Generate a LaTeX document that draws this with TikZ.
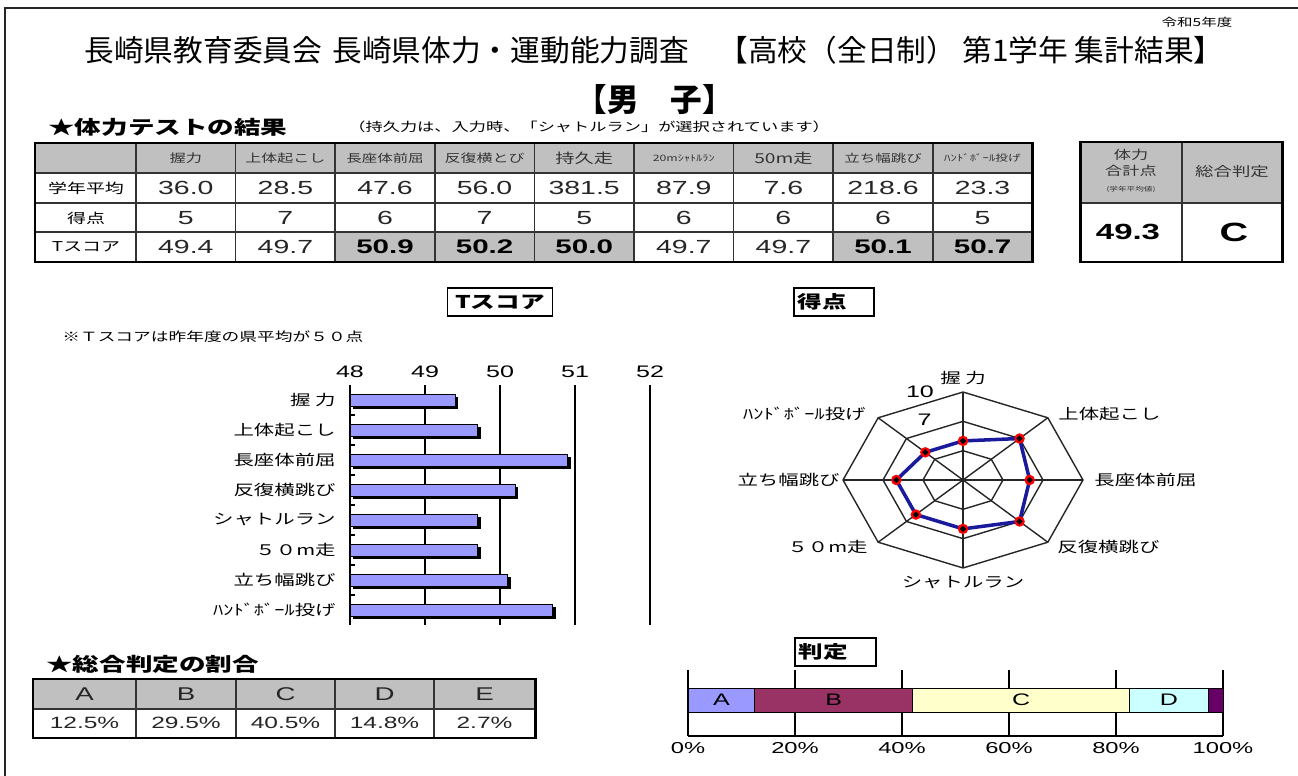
\documentclass[tikz,border=0pt]{standalone}
\usepackage{fontspec}
\setmainfont{Noto Sans CJK JP}
\newfontfamily\widefont{Noto Sans CJK JP}[FakeStretch=1.4]
\newfontfamily\numfont{Liberation Sans}[FakeStretch=1.5]

\definecolor{cellgray}{HTML}{C0C0C0}
\definecolor{barblue}{HTML}{9999FF}
\definecolor{bplum}{HTML}{993366}
\definecolor{cyellow}{HTML}{FFFFCC}
\definecolor{dcyan}{HTML}{CCFFFF}
\definecolor{epurple}{HTML}{660066}
\definecolor{radarblue}{HTML}{1A1A9C}

\tikzset{
  pageframe/.style={line width=1.2pt, black!85},
  tline/.style={line width=0.9pt, black!80},
  tframe/.style={line width=1.7pt, black},
  titletxt/.style={font=\fontsize{16.9}{18}\selectfont, inner sep=0pt},
  smalltxt/.style={font=\widefont\fontsize{7}{8}\selectfont, inner sep=0pt},
  headtxt/.style={font=\widefont\bfseries\fontsize{10.8}{12}\selectfont, inner sep=0pt},
  hdr/.style={text=black!80, inner sep=0pt},
  rowlab/.style={font=\widefont\fontsize{7.7}{9}\selectfont, inner sep=0pt},
  val/.style={font=\numfont\fontsize{10.8}{12}\selectfont, text=black!85, inner sep=0pt},
  valbold/.style={font=\numfont\bfseries\fontsize{11.2}{12}\selectfont, inner sep=0pt},
  catlab/.style={font=\widefont\fontsize{8.3}{10}\selectfont, inner sep=0pt},
  axlab/.style={font=\numfont\fontsize{9.5}{11}\selectfont, inner sep=0pt},
  boxlab/.style={draw, line width=0.9pt, font=\widefont\bfseries\fontsize{10}{12}\selectfont, minimum height=0.56cm},
  plotgrid/.style={line width=0.7pt, black},
  tbar/.style={fill=barblue, draw=black, line width=0.4pt},
  barshadow/.style={fill=black},
  radgrid/.style={line width=0.8pt, black!85},
  radline/.style={line width=2pt, radarblue, line join=round},
  segbox/.style={draw=black, line width=0.5pt},
}

\begin{document}
\begin{tikzpicture}[x=0.02cm,y=-0.02cm]
\useasboundingbox (0,0) rectangle (1298,776);
\draw[pageframe] (1298,8) -- (5,8) -- (5,776);

\node[smalltxt, font=\widefont\fontsize{6.3}{7}\selectfont] (year) at (1197,22) {令和5年度};
\node[titletxt] (title) at (654,50) {長崎県教育委員会\hspace{0.35em}長崎県体力・運動能力調査　【高校（全日制） 第1学年 集計結果】};
\node[font=\bfseries\fontsize{18}{20}\selectfont, inner sep=0pt] (sex) at (655,100) {【男　子】};
\node[headtxt, anchor=west] (testhead) at (48,127) {★体力テストの結果};
\node[smalltxt, anchor=west] (note1) at (348,127) {（持久力は、入力時、「シャトルラン」が選択されています）};

% main table
\fill[cellgray] (35,143) rectangle (1032,173);
\foreach \i in {3,4,5,8,9} \fill[cellgray] ({136+99.6*(\i-1)},232) rectangle ({136+99.6*\i},262);
\foreach \yy in {173,203,232} \draw[tline] (35,\yy) -- (1032,\yy);
\foreach \i in {0,...,8} \draw[tline] ({136+99.6*\i},143) -- ({136+99.6*\i},262);
\draw[tframe] (35,143) rectangle (1032,262);
\foreach \lab/\fs [count=\i] in {握力/6.6,上体起こし/6.5,長座体前屈/6.3,反復横とび/6.5,持久走/7.8,20mｼｬﾄﾙﾗﾝ/5,50m走/7.8,立ち幅跳び/6.3,ﾊﾝﾄﾞﾎﾞｰﾙ投げ/5.2}
  \node[hdr, font=\widefont\fontsize{\fs}{\fs}\selectfont] (h\i) at ({185.8+99.6*(\i-1)},158) {\lab};
\node[rowlab] (avg) at (86,188) {学年平均};
\node[rowlab] (pts) at (86,218) {得点};
\node[rowlab] (tsc) at (86,247) {Tスコア};
\foreach \v [count=\i] in {36.0,28.5,47.6,56.0,381.5,87.9,7.6,218.6,23.3}
  \node[val] (a\i) at ({185.8+99.6*(\i-1)},188) {\v};
\foreach \v [count=\i] in {5,7,6,7,5,6,6,6,5}
  \node[val] (p\i) at ({185.8+99.6*(\i-1)},218) {\v};
\foreach \i/\v in {1/49.4,2/49.7,6/49.7,7/49.7}
  \node[val] (t\i) at ({185.8+99.6*(\i-1)},247) {\v};
\foreach \i/\v in {3/50.9,4/50.2,5/50.0,8/50.1,9/50.7}
  \node[valbold] (t\i) at ({185.8+99.6*(\i-1)},247) {\v};

% total box
\fill[cellgray] (1080,142) rectangle (1282,203);
\draw[tline] (1182,142) -- (1182,262);
\draw[tline, line width=1.3pt] (1080,203) -- (1282,203);
\draw[tframe] (1080,142) rectangle (1282,262);
\node[hdr, align=center, font=\widefont\fontsize{7}{9}\selectfont] (sumhead) at (1131,171) {体力\\合計点\\{\fontsize{3.5}{4}\selectfont (学年平均値)}};
\node[hdr, font=\widefont\fontsize{7.5}{9}\selectfont] (judhead) at (1232,172) {総合判定};
\node[valbold, font=\numfont\bfseries\fontsize{12.5}{14}\selectfont] (sumval) at (1128,232) {49.3};
\node[valbold, font=\numfont\bfseries\fontsize{15}{16}\selectfont] (judval) at (1234,232) {C};

% T score bars
\node[boxlab, minimum width=2.1cm] (tbox) at (500,302) {Tスコア};
\node[smalltxt, anchor=west, font=\widefont\fontsize{7.2}{8}\selectfont] (note2) at (62,337) {※Ｔスコアは昨年度の県平均が５０点};
\foreach \v in {48,...,52} {
  \node[axlab] (ax\v) at ({350+75*(\v-48)},372) {\v};
  \draw[plotgrid] ({350+75*(\v-48)},385) -- ({350+75*(\v-48)},625);
}
\foreach \k in {1,...,7} \draw[plotgrid] (350,{385+30*\k}) -- (355,{385+30*\k});
\foreach \lab/\v [count=\i] in {握 力/49.4,上体起こし/49.7,長座体前屈/50.9,反復横跳び/50.2,シャトルラン/49.7,５０m走/49.7,立ち幅跳び/50.1,ﾊﾝﾄﾞﾎﾞｰﾙ投げ/50.7} {
  \fill[barshadow] (353,{370+30*\i-3}) rectangle ({350+75*(\v-48)+3},{370+30*\i+9});
  \filldraw[tbar] (350,{370+30*\i-6}) rectangle ({350+75*(\v-48)},{370+30*\i+6});
  \node[catlab, anchor=east] (c\i) at (336,{370+30*\i}) {\lab};
}

% radar
\node[boxlab, anchor=west, text width=1.45cm, inner xsep=0.075cm] (pbox) at (793,302) {得点};
\begin{scope}[shift={(963,480)}, x=2.4cm, y=1.76cm]
\foreach \f in {0.3333,0.6667,1}
  \draw[radgrid] (90:\f) -- (45:\f) -- (0:\f) -- (-45:\f) -- (-90:\f) -- (-135:\f) -- (180:\f) -- (135:\f) -- cycle;
\foreach \a in {0,45,...,315} \draw[radgrid] (0,0) -- (\a:1);
\node[axlab, anchor=east] (r10) at (-0.24,1) {10};
\node[axlab, anchor=east] (r7) at (-0.26,0.69) {7};
\draw[radline] (90:0.4444) -- (45:0.6667) -- (0:0.5556) -- (-45:0.6667) -- (-90:0.5556) -- (-135:0.5556) -- (180:0.5556) -- (135:0.4444) -- cycle;
\foreach \a/\f in {90/0.4444,45/0.6667,0/0.5556,-45/0.6667,-90/0.5556,-135/0.5556,180/0.5556,135/0.4444} {
  \fill[red] (\a:\f) circle[radius=3pt];
  \fill[black] (\a:\f) ++(1.8pt,0) -- ++(-1.8pt,1.8pt) -- ++(-1.8pt,-1.8pt) -- ++(1.8pt,-1.8pt) -- cycle;
}
\end{scope}
\node[catlab] (rl1) at (963,378) {握 力};
\node[catlab, anchor=west] (rl2) at (1058,414) {上体起こし};
\node[catlab, anchor=west] (rl3) at (1094,480) {長座体前屈};
\node[catlab, anchor=west] (rl4) at (1057,547) {反復横跳び};
\node[catlab] (rl5) at (963,583) {シャトルラン};
\node[catlab, anchor=east] (rl6) at (868,547) {５０m走};
\node[catlab, anchor=east] (rl7) at (840,480) {立ち幅跳び};
\node[catlab, anchor=east] (rl8) at (866,414) {ﾊﾝﾄﾞﾎﾞｰﾙ投げ};

% judgement share table
\node[headtxt, anchor=west] (sharehead) at (46,664) {★総合判定の割合};
\fill[cellgray] (33,679) rectangle (535,709);
\draw[tline] (33,709) -- (535,709);
\foreach \xx in {136,236,335,434} \draw[tline] (\xx,679) -- (\xx,738);
\draw[tframe] (33,679) rectangle (535,738);
\foreach \l/\v/\xx in {A/12.5/84.5,B/29.5/186,C/40.5/285.5,D/14.8/384.5,E/2.7/484.5} {
  \node[val, font=\numfont\fontsize{10.5}{12}\selectfont] (g\l) at (\xx,694) {\l};
  \node[val, font=\numfont\fontsize{9.3}{11}\selectfont] (s\l) at (\xx,723) {\v\%};
}

% judgement bar
\node[boxlab, anchor=west, text width=1.47cm, inner xsep=0.075cm] (jbox) at (794,652) {判定};
\foreach \p in {0,20,...,100} {
  \draw[plotgrid] ({688+5.35*\p},670) -- ({688+5.35*\p},736);
  \node[axlab, font=\numfont\fontsize{9}{11}\selectfont] (pc\p) at ({688+5.35*\p},748) {\p\%};
}
\draw[plotgrid] (688,736) -- (1223,736);
\foreach \a/\b/\c in {0/12.5/barblue,12.5/42.0/bplum,42.0/82.5/cyellow,82.5/97.3/dcyan,97.3/100/epurple}
  \filldraw[segbox, fill=\c] ({688+5.35*\a},688) rectangle ({688+5.35*\b},712);
\foreach \l/\m in {A/6.25,B/27.25,C/62.25,D/89.9}
  \node[axlab, font=\numfont\fontsize{9.5}{11}\selectfont] (b\l) at ({688+5.35*\m},700) {\l};
\end{tikzpicture}
\end{document}
